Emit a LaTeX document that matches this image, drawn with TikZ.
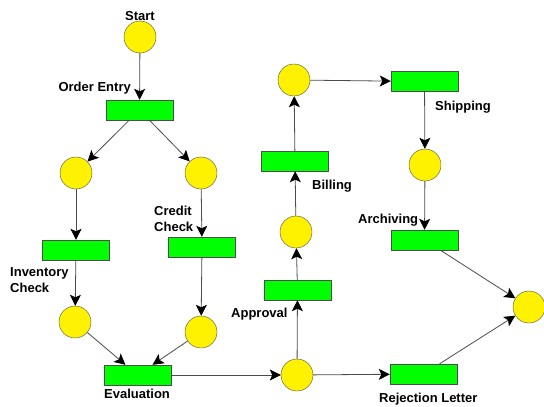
\documentclass[tikz,border=0pt]{standalone}
\usepackage{fontspec}
\setmainfont{Liberation Sans}
\usetikzlibrary{arrows.meta}

\tikzset{
	place/.style={circle, draw=black!70, fill=yellow, minimum size=32pt, inner sep=0pt},
	trans/.style={rectangle, draw=black!70, fill=green, minimum width=67pt, minimum height=20pt, inner sep=0pt},
	lbl/.style={font=\fontsize{13}{16}\selectfont\bfseries, inner sep=0pt},
	arc/.style={draw=black!70, line width=0.8pt, -{Stealth[length=11pt,width=11pt,inset=2.5pt,color=black]}},
}

\begin{document}
\begin{tikzpicture}[x=1pt, y=-1pt]
			%%%%% START %%%%%
			
			\useasboundingbox (0, 0) rectangle (544, 407);
			
			% places
			\node[place] (start) at (140, 37) {};
			\node[place] (pa) at (76, 173) {};
			\node[place] (pb) at (201, 173) {};
			\node[place] (pc) at (75, 322) {};
			\node[place] (pd) at (201, 332) {};
			\node[place] (pe) at (297, 375) {};
			\node[place] (pf) at (296, 232) {};
			\node[place] (pg) at (294, 80) {};
			\node[place] (ph) at (425, 165) {};
			\node[place] (pend) at (529, 307) {};
			
			% transitions
			\node[trans] (entry) at (139.5, 110) {};
			\node[trans] (inventory) at (76, 250) {};
			\node[trans] (credit) at (202, 247) {};
			\node[trans] (evaluation) at (137.5, 375) {};
			\node[trans] (approval) at (297.5, 290) {};
			\node[trans] (billing) at (295, 161) {};
			\node[trans] (shipping) at (424.5, 81.5) {};
			\node[trans] (archiving) at (424.5, 240) {};
			\node[trans] (rejection) at (423.5, 374) {};
			
			% labels
			\node[lbl, anchor=base] (startlbl) at (140, 20) {Start};
			\node[lbl, anchor=base east] (entrylbl) at (131, 91) {Order Entry};
			\node[lbl, anchor=base west, align=left] (inventorylbl) at (10, 292.5) {Inventory\\Check};
			\node[lbl, anchor=base west, align=left] (creditlbl) at (154, 231.5) {Credit\\Check};
			\node[lbl, anchor=base west] (evaluationlbl) at (104, 398) {Evaluation};
			\node[lbl, anchor=base west] (approvallbl) at (231, 317) {Approval};
			\node[lbl, anchor=base west] (billinglbl) at (312, 189) {Billing};
			\node[lbl, anchor=base west] (shippinglbl) at (435, 110) {Shipping};
			\node[lbl, anchor=base west] (archivinglbl) at (358, 223) {Archiving};
			\node[lbl, anchor=base west] (rejectionlbl) at (379, 402) {Rejection Letter};
			
			% arcs
			\draw[arc] (start) -- (entry);
			\draw[arc] (entry) -- (pa);
			\draw[arc] (entry) -- (pb);
			\draw[arc] (pa) -- (inventory);
			\draw[arc] (pb) -- (credit);
			\draw[arc] (inventory) -- (pc);
			\draw[arc] (credit) -- (pd);
			\draw[arc] (pc) -- (evaluation);
			\draw[arc] (pd) -- (evaluation);
			\draw[arc] (evaluation) -- (pe);
			\draw[arc] (pe) -- (approval);
			\draw[arc] (approval) -- (pf);
			\draw[arc] (pf) -- (billing);
			\draw[arc] (billing) -- (pg);
			\draw[arc] (pg) -- (shipping);
			\draw[arc] (shipping) -- (ph);
			\draw[arc] (ph) -- (archiving);
			\draw[arc] (archiving) -- (pend);
			\draw[arc] (pe) -- (rejection);
			\draw[arc] (rejection) -- (pend);
			
			%%%%% END %%%%%
		\end{tikzpicture}
\end{document}
